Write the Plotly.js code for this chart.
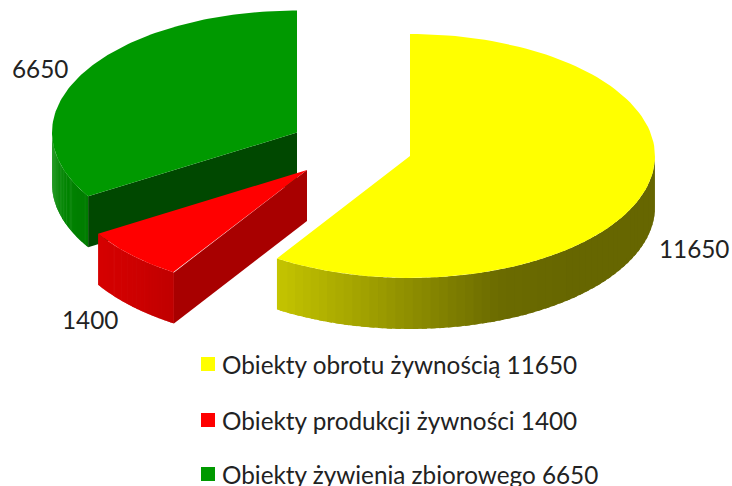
<!DOCTYPE html>
<html>
<head>
<meta charset="utf-8">
<script src="https://cdn.plot.ly/plotly-3.0.1.min.js"></script>
<style>html,body{margin:0;padding:0;background:#fff}#c{width:732px;height:486px}</style>
</head>
<body>
<div id="c"></div>
<script>
const categories = ['Obiekty obrotu żywnością', 'Obiekty produkcji żywności', 'Obiekty żywienia zbiorowego'];
const values = [11650, 1400, 6650];
const topColors = ['#ffff00', '#ff0000', '#009900'];
const cutColors = ['#7f7f00', '#a80000', '#004800'];
const wallStops = [
  [[198,198,0],[168,168,0],[137,137,0],[107,107,0],[102,102,0],[102,102,0]],
  [[214,0,0],[205,0,0],[192,0,0]],
  [[0,136,0],[0,130,0],[0,124,0]]
];
const apexX = [410, 307, 297];
const apexY = [156, 170, 132.5];
const labelX = [657, 60, 10];
const labelY = [248, 319, 68];
const RX = 245, RY = 122, DEPTH = 51;
const FONT = {family:'Lato, Carlito, sans-serif', size:24.3, color:'#222222'};

const total = values.reduce((a, b) => a + b, 0);
let acc = 0;
const spans = values.map(v => { const s = acc; acc += v / total * 2 * Math.PI; return [s, acc]; });
const px = (i, t) => apexX[i] + RX * Math.sin(t);
const py = (i, t) => apexY[i] - RY * Math.cos(t);
const traces = [];
function poly(xs, ys, color, w) {
  traces.push({type:'scatter', mode:'lines', x:xs, y:ys, fill:'toself', fillcolor:color,
    line:{color:color, width:w}, hoverinfo:'skip', showlegend:false});
}
function mix(stops, f) {
  const p = f * (stops.length - 1), k = Math.min(Math.floor(p), stops.length - 2), r = p - k;
  return 'rgb(' + stops[k].map((c, j) => Math.round(c + (stops[k + 1][j] - c) * r)).join(',') + ')';
}
function drawSlice(i) {
  const [a, b] = spans[i];
  const lo = Math.max(a, Math.PI / 2), hi = Math.min(b, 3 * Math.PI / 2);
  const strips = 60;
  for (let s = strips - 1; s >= 0; s--) {
    const t0 = lo + (hi - lo) * s / strips;
    const t1 = Math.min(hi, lo + (hi - lo) * (s + 1.6) / strips);
    const mid = px(i, lo + (hi - lo) * (s + 0.5) / strips);
    const xl = px(i, hi), xr = px(i, lo);
    const f = Math.min(1, Math.max(0, (mid - xl) / (xr - xl)));
    const n = 4, xs = [], ys = [];
    for (let k = 0; k <= n; k++) { const t = t0 + (t1 - t0) * k / n; xs.push(px(i,t)); ys.push(py(i,t)); }
    for (let k = n; k >= 0; k--) { const t = t0 + (t1 - t0) * k / n; xs.push(px(i,t)); ys.push(py(i,t) + DEPTH); }
    xs.push(xs[0]); ys.push(ys[0]);
    poly(xs, ys, mix(wallStops[i], f), 0);
  }
  if (a > Math.PI / 2) {
    poly([apexX[i], px(i,a), px(i,a), apexX[i], apexX[i]],
         [apexY[i], py(i,a), py(i,a)+DEPTH, apexY[i]+DEPTH, apexY[i]], cutColors[i], 0);
  }
  const xs = [apexX[i]], ys = [apexY[i]];
  for (let k = 0; k <= 120; k++) { const t = a + (b - a) * k / 120; xs.push(px(i,t)); ys.push(py(i,t)); }
  xs.push(apexX[i]); ys.push(apexY[i]);
  poly(xs, ys, topColors[i], 0);
}
[2, 1, 0].forEach(drawSlice);

const legX = [208, 208, 208], legY = [364, 420, 474];
traces.push({type:'scatter', mode:'markers', x:legX, y:legY,
  marker:{symbol:'square', size:14, color:topColors, line:{width:0}}, hoverinfo:'skip', showlegend:false});

const annotations = values.map((v, i) => ({x:labelX[i], y:labelY[i], xref:'x', yref:'y', xanchor:'left', yanchor:'middle',
  text:String(v), showarrow:false, font:FONT}))
 .concat(categories.map((c, i) => ({x:220, y:legY[i], xref:'x', yref:'y', xanchor:'left', yanchor:'middle',
  text:c + ' ' + values[i], showarrow:false, font:FONT})));

Plotly.newPlot('c', traces, {
  width:732, height:486, margin:{l:0,r:0,t:0,b:0}, paper_bgcolor:'#fff', plot_bgcolor:'#fff',
  xaxis:{range:[0,732], visible:false, fixedrange:true},
  yaxis:{range:[486,0], visible:false, fixedrange:true},
  annotations, showlegend:false
}, {displayModeBar:false, staticPlot:true});
</script>
</body>
</html>
